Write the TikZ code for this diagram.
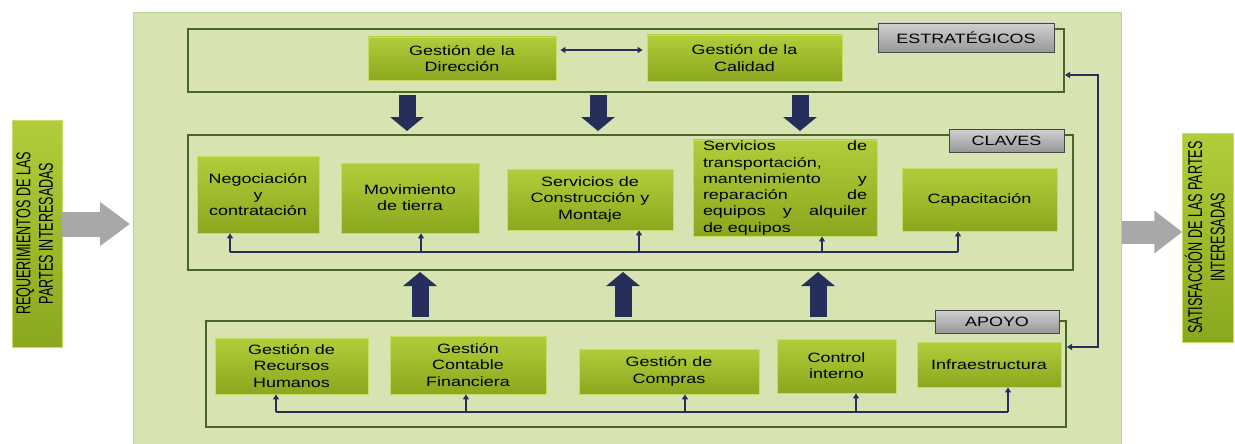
\documentclass[tikz,border=0pt]{standalone}
\usepackage{fontspec}
\setmainfont{Liberation Sans}[FakeStretch=1.33]
\newfontfamily\tallfont{Liberation Sans}[FakeStretch=0.63]
\usepackage{graphicx}
\usetikzlibrary{arrows.meta, positioning}

\definecolor{limetop}{RGB}{178,205,58}
\definecolor{limebot}{RGB}{138,168,30}
\definecolor{limeedge}{RGB}{198,220,98}
\definecolor{panelgreen}{RGB}{215,227,176}
\definecolor{panelborder}{RGB}{188,212,146}
\definecolor{frameline}{RGB}{72,102,42}
\definecolor{navy}{RGB}{38,46,92}
\definecolor{tagtop}{RGB}{208,208,208}
\definecolor{tagbot}{RGB}{152,152,152}
\definecolor{arrowgray}{RGB}{168,168,168}

\begin{document}
\begin{tikzpicture}[
      x=1pt, y=-1pt,
      every node/.style={font=\fontsize{13.5}{16.3}\selectfont, inner sep=2pt},
      proc/.style={rectangle, draw=limeedge, line width=0.8pt, top color=limetop, bottom color=limebot, align=center},
      frame/.style={rectangle, draw=frameline, line width=2pt},
      tag/.style={rectangle, draw=gray!55!black, line width=0.8pt, top color=tagtop, bottom color=tagbot, minimum height=23pt},
      sidebox/.style={rectangle, draw=limeedge, line width=0.8pt, top color=limetop, bottom color=limebot, minimum width=50pt, font=\tallfont\fontsize{20}{22.5}\selectfont},
      bigarrow/.style={draw=navy, line width=17pt, -{Triangle[length=14pt, width=33pt]}},
      grayarrow/.style={draw=arrowgray, line width=25pt, -{Triangle[length=30pt, width=42pt]}},
      link/.style={draw=navy, line width=1.5pt, -{Triangle[length=5pt, width=6pt]}},
      twoway/.style={draw=navy, line width=1.3pt, {Triangle[length=5pt, width=6pt]}-{Triangle[length=5pt, width=6pt]}},
      bus/.style={draw=navy, line width=1.5pt}
    ]
    \useasboundingbox (0,0) rectangle (1235,444);

    % Background panel and frames
    \node[rectangle, fill=panelgreen, draw=panelborder, line width=1pt, minimum width=988pt, minimum height=440pt, anchor=north west] (panel) at (133,12) {};
    \node[frame, minimum width=876pt, minimum height=63pt] (strat) at (626,60.5) {};
    \node[frame, minimum width=885pt, minimum height=135pt] (claves) at (630.5,202.5) {};
    \node[frame, minimum width=860pt, minimum height=106pt] (apoyo) at (636,374) {};

    \node[tag, minimum width=176pt, minimum height=29pt] (tagest) at (966,37.5) {ESTRATÉGICOS};
    \node[tag, minimum width=115pt] (tagcla) at (1006.5,140.5) {CLAVES};
    \node[tag, minimum width=124pt] (tagapo) at (997,321.5) {APOYO};

    % Side boxes
    \node[sidebox, minimum height=227pt] (req) at (37,233.5) {\rotatebox{90}{\begin{tabular}{@{}c@{}}REQUERIMIENTOS DE LAS\\PARTES INTERESADAS\end{tabular}}};
    \node[sidebox, minimum height=209pt] (sat) at (1208,237.5) {\rotatebox{90}{\begin{tabular}{@{}c@{}}SATISFACCIÓN DE LAS PARTES\\INTERESADAS\end{tabular}}};

    % Strategic processes
    \node[proc, minimum width=188pt, minimum height=43pt] (dir) at (462,58.5) {Gestión de la\\Dirección};
    \node[proc, minimum width=195pt, minimum height=46pt] (cal) at (744.5,58) {Gestión de la\\Calidad};

    % Key processes
    \node[proc, minimum width=122pt, minimum height=77pt] (neg) at (258,194.5) {Negociación\\y\\contratación};
    \node[proc, minimum width=138pt, minimum height=70pt] (mov) at (410,198) {Movimiento\\de tierra};
    \node[proc, minimum width=166pt, minimum height=61pt] (cons) at (590,199.5) {Servicios de\\Construcción y\\Montaje};
    \node[proc, text width=164pt, align=justify, inner xsep=10pt, inner ysep=1pt, minimum height=96pt] (trans) at (785,188) {\tolerance=10000 \hbadness=10000 Servicios de\linebreak transportación,\linebreak mantenimiento y\linebreak reparación de\linebreak equipos y alquiler\linebreak de equipos};
    \node[proc, minimum width=155pt, minimum height=63pt] (cap) at (979.5,199.5) {Capacitación};

    % Support processes
    \node[proc, minimum width=153pt, minimum height=56pt] (rh) at (291.5,366) {Gestión de\\Recursos\\Humanos};
    \node[proc, minimum width=156pt, minimum height=58pt] (cf) at (468,365) {Gestión\\Contable\\Financiera};
    \node[proc, minimum width=180pt, minimum height=45pt] (comp) at (669,371.5) {Gestión de\\Compras};
    \node[proc, minimum width=119pt, minimum height=54pt] (ci) at (836.5,366) {Control\\interno};
    \node[proc, minimum width=144pt, minimum height=45pt] (inf) at (989,364.5) {Infraestructura};

    % Arrows
    \draw[grayarrow, shorten >=3pt] ([yshift=9.5pt]req.east) -- ([yshift=9.5pt]req.east -| panel.west);
    \draw[grayarrow, line width=23pt, -{Triangle[length=28pt, width=41pt]}] ([yshift=5.5pt]sat.west -| panel.east) -- ([yshift=5.5pt]sat.west);

    \draw[twoway, shorten <=4pt, shorten >=4pt] ([yshift=8.5pt]dir.east) -- ([yshift=8.5pt]dir.east -| cal.west);

    \foreach \x in {407,598,800}
      \draw[bigarrow, shorten <=2pt, shorten >=3pt] (\x,0 |- strat.south) -- (\x,0 |- claves.north);
    \foreach \x in {420,623,818}
      \draw[bigarrow, shorten <=3pt, shorten >=1pt] (\x,0 |- apoyo.north) -- (\x,0 |- claves.south);

    \draw[bus] (230,252) -- (958,252);
    \foreach \x/\n in {230/neg, 421/mov, 639/cons, 822/trans, 958/cap}
      \draw[link] (\x,252) -- (\x,0 |- \n.south);

    \draw[bus] (276,412) -- (1008,412);
    \foreach \x/\n in {276/rh, 466/cf, 685/comp, 856/ci, 1008/inf}
      \draw[link] (\x,412) -- (\x,0 |- \n.south);

    \draw[twoway, line width=1.5pt] (strat.east |- 0,75) -| (1098,210) |- (apoyo.east |- 0,347);

    \end{tikzpicture}
\end{document}
